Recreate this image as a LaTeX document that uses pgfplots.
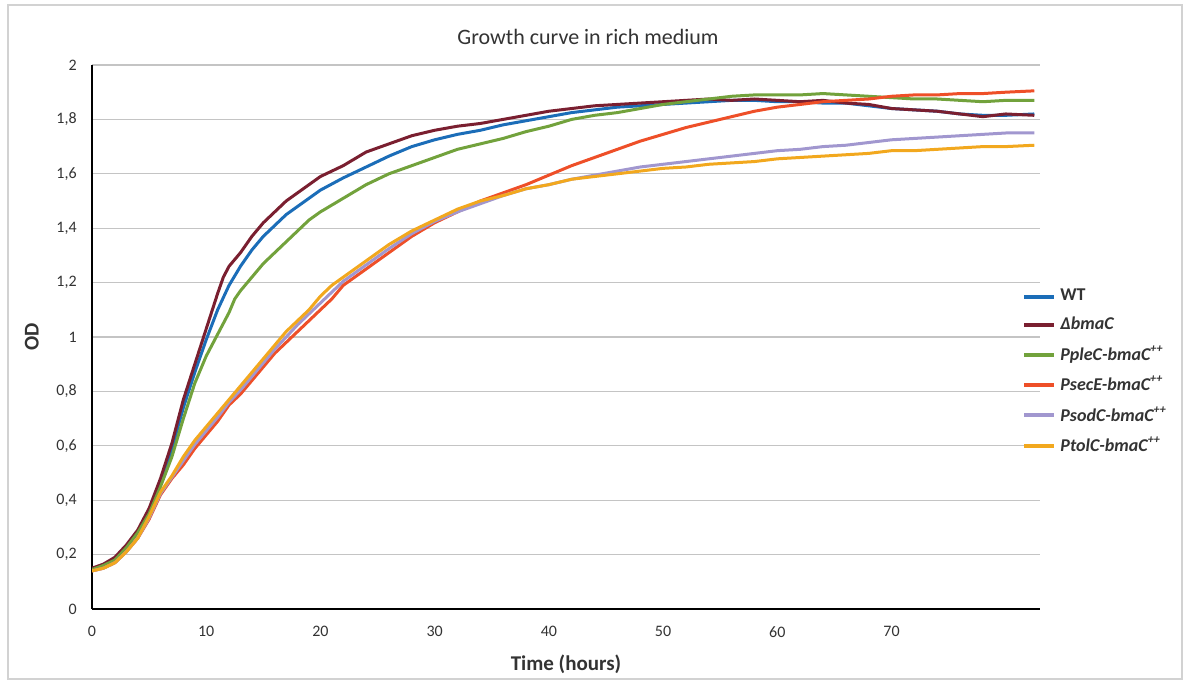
\documentclass[border=0pt]{standalone}
\usepackage{fontspec}
\setmainfont{Carlito}
\usepackage{pgfplots}
\pgfplotsset{compat=1.18}
\usetikzlibrary{calc}
\definecolor{wt}{HTML}{1B6DB8}
\definecolor{dbma}{HTML}{7A1F30}
\definecolor{plec}{HTML}{72A23C}
\definecolor{psec}{HTML}{EE4F28}
\definecolor{psod}{HTML}{A197CF}
\definecolor{ptol}{HTML}{F2A81E}
\definecolor{gridc}{HTML}{C4C4C4}
\definecolor{txt}{HTML}{333333}

\begin{document}
\begin{tikzpicture}
\begin{axis}[name=ax, at={(0,0)}, anchor=south west,
  scale only axis, width=474pt, height=272pt,
  xmin=0, xmax=83, ymin=0, ymax=2,
  xtick={0,10,...,70}, ytick={0,0.2,...,2.01},
  axis x line=bottom, axis y line=left,
  axis line style={-, line width=1pt, draw=black},
  tick style={draw=none},
  ymajorgrids, grid style={gridc, line width=0.6pt},
  /pgf/number format/use comma,
  /pgf/number format/assume math mode=true,
  ticklabel style={font=\fontsize{8}{9}\selectfont, text=txt},
  yticklabel style={xshift=-2pt},
  xticklabel style={yshift=-3pt},
  xlabel={\textbf{Time (hours)}}, ylabel={\textbf{OD}},
  label style={font=\fontsize{10.5}{12}\selectfont, text=txt},
  xlabel style={yshift=-2pt},
  ylabel style={yshift=2pt},
  every axis plot/.append style={line width=1.5pt, line join=round},
  legend style={at={(0.981,0.596)}, anchor=north west, draw=none, fill=none,
    font=\fontsize{9}{10}\selectfont\bfseries\itshape, text=txt,
    row sep=2.6pt, inner sep=0pt},
  legend cell align=left,
  legend image code/.code={\draw[#1, line width=2pt] (0pt,0pt) -- (15pt,0pt);},
]
\addplot[wt] coordinates {(0,0.145)(1,0.16)(2,0.185)(3,0.23)(4,0.285)(5,0.36)(6,0.46)(7,0.59)(8,0.74)(9,0.87)(10,0.99)(11,1.10)(12,1.19)(13,1.26)(14,1.32)(15,1.37)(16,1.41)(17,1.45)(18,1.48)(19,1.51)(20,1.54)(22,1.585)(24,1.625)(26,1.665)(28,1.70)(30,1.725)(32,1.745)(34,1.76)(36,1.78)(38,1.795)(40,1.81)(42,1.825)(44,1.835)(46,1.845)(48,1.85)(50,1.855)(52,1.86)(54,1.865)(56,1.87)(58,1.87)(60,1.865)(62,1.865)(64,1.86)(66,1.86)(68,1.85)(70,1.84)(72,1.835)(74,1.83)(76,1.82)(78,1.815)(80,1.815)(82.5,1.82)};
\addlegendentry{\upshape WT}
\addplot[dbma] coordinates {(0,0.15)(1,0.165)(2,0.19)(3,0.235)(4,0.29)(5,0.37)(6,0.48)(7,0.61)(8,0.77)(9,0.90)(10,1.03)(11,1.16)(11.5,1.22)(12,1.26)(13,1.31)(14,1.37)(15,1.42)(16,1.46)(17,1.50)(18,1.53)(19,1.56)(20,1.59)(22,1.63)(24,1.68)(26,1.71)(28,1.74)(30,1.76)(32,1.775)(34,1.785)(36,1.80)(38,1.815)(40,1.83)(42,1.84)(44,1.85)(46,1.855)(48,1.86)(50,1.865)(52,1.87)(54,1.875)(56,1.87)(58,1.875)(60,1.87)(62,1.865)(64,1.87)(66,1.86)(68,1.855)(70,1.84)(72,1.835)(74,1.83)(76,1.82)(78,1.81)(80,1.82)(82.5,1.815)};
\addlegendentry{ΔbmaC}
\addplot[plec] coordinates {(0,0.145)(1,0.16)(2,0.18)(3,0.225)(4,0.28)(5,0.35)(6,0.45)(7,0.56)(8,0.70)(9,0.83)(10,0.93)(11,1.01)(12,1.09)(12.5,1.14)(13,1.17)(14,1.22)(15,1.27)(16,1.31)(17,1.35)(18,1.39)(19,1.43)(20,1.46)(22,1.51)(24,1.56)(26,1.60)(28,1.63)(30,1.66)(32,1.69)(34,1.71)(36,1.73)(38,1.755)(40,1.775)(42,1.80)(44,1.815)(46,1.825)(48,1.84)(50,1.855)(52,1.865)(54,1.875)(56,1.885)(58,1.89)(60,1.89)(62,1.89)(64,1.895)(66,1.89)(68,1.885)(70,1.88)(72,1.875)(74,1.875)(76,1.87)(78,1.865)(80,1.87)(82.5,1.87)};
\addlegendentry{PpleC-bmaC\textsuperscript{++}}
\addplot[psec] coordinates {(0,0.14)(1,0.15)(2,0.17)(3,0.21)(4,0.26)(5,0.33)(6,0.42)(7,0.48)(8,0.53)(9,0.59)(10,0.64)(11,0.69)(12,0.75)(13,0.79)(14,0.84)(15,0.89)(16,0.94)(17,0.98)(18,1.02)(19,1.06)(20,1.10)(21,1.14)(22,1.19)(24,1.25)(26,1.31)(28,1.37)(30,1.42)(32,1.46)(34,1.50)(36,1.53)(38,1.56)(40,1.595)(42,1.63)(44,1.66)(46,1.69)(48,1.72)(50,1.745)(52,1.77)(54,1.79)(56,1.81)(58,1.83)(60,1.845)(62,1.855)(64,1.865)(66,1.87)(68,1.875)(70,1.885)(72,1.89)(74,1.89)(76,1.895)(78,1.895)(80,1.90)(82.5,1.905)};
\addlegendentry{PsecE-bmaC\textsuperscript{++}}
\addplot[psod] coordinates {(0,0.14)(1,0.15)(2,0.17)(3,0.21)(4,0.26)(5,0.335)(6,0.425)(7,0.485)(8,0.545)(9,0.605)(10,0.655)(11,0.705)(12,0.76)(13,0.805)(14,0.855)(15,0.905)(16,0.955)(17,1.0)(18,1.045)(19,1.085)(20,1.125)(21,1.165)(22,1.205)(24,1.265)(26,1.325)(28,1.38)(30,1.425)(32,1.46)(34,1.49)(36,1.52)(38,1.545)(40,1.56)(42,1.58)(44,1.595)(46,1.61)(48,1.625)(50,1.635)(52,1.645)(54,1.655)(56,1.665)(58,1.675)(60,1.685)(62,1.69)(64,1.70)(66,1.705)(68,1.715)(70,1.725)(72,1.73)(74,1.735)(76,1.74)(78,1.745)(80,1.75)(82.5,1.75)};
\addlegendentry{PsodC-bmaC\textsuperscript{++}}
\addplot[ptol] coordinates {(0,0.14)(1,0.15)(2,0.17)(3,0.21)(4,0.26)(5,0.34)(6,0.43)(7,0.49)(8,0.56)(9,0.62)(10,0.67)(11,0.72)(12,0.77)(13,0.82)(14,0.87)(15,0.92)(16,0.97)(17,1.02)(18,1.06)(19,1.10)(20,1.15)(21,1.19)(22,1.22)(24,1.28)(26,1.34)(28,1.39)(30,1.43)(32,1.47)(34,1.50)(36,1.52)(38,1.545)(40,1.56)(42,1.58)(44,1.59)(46,1.60)(48,1.61)(50,1.62)(52,1.625)(54,1.635)(56,1.64)(58,1.645)(60,1.655)(62,1.66)(64,1.665)(66,1.67)(68,1.675)(70,1.685)(72,1.685)(74,1.69)(76,1.695)(78,1.70)(80,1.70)(82.5,1.705)};
\addlegendentry{PtolC-bmaC\textsuperscript{++}}
\end{axis}
\node[font=\fontsize{11}{13}\selectfont, text=txt] at ($(ax.north)+(11pt,14pt)$) {Growth curve in rich medium};
\draw[gray!35, line width=0.8pt] ($(ax.south west)+(-42pt,-35pt)$) rectangle ($(ax.south west)+(545pt,302pt)$);
\path[use as bounding box] ($(ax.south west)+(-46pt,-37.5pt)$) rectangle ($(ax.south west)+(547pt,304.5pt)$);
\end{tikzpicture}
\end{document}
